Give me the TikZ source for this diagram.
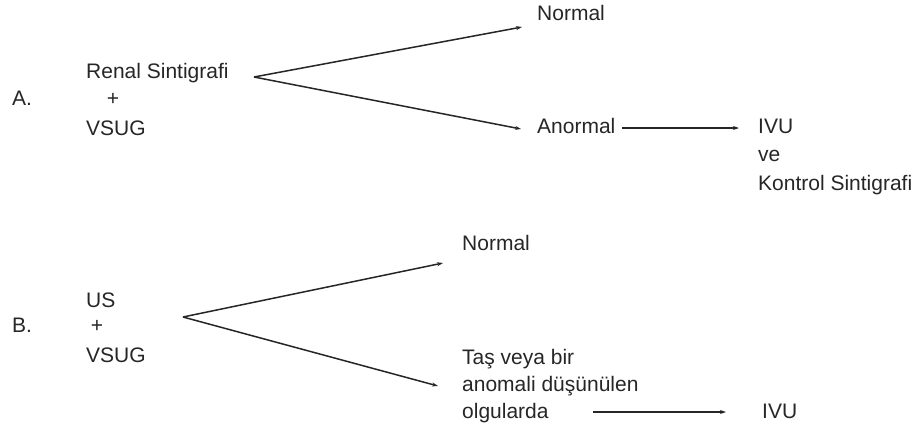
\documentclass[tikz,border=0pt]{standalone}
\usepackage{fontspec}
\setmainfont{Liberation Sans}
\usetikzlibrary{arrows.meta}
\begin{document}
\begin{tikzpicture}[x=1pt,y=-1pt,
  lbl/.style={anchor=base west,inner sep=0pt,font=\fontsize{21}{25}\selectfont,text=black!85},
  plus/.style={anchor=base,inner sep=0pt,font=\fontsize{21}{25}\selectfont,text=black!85},
  arr/.style={draw=black!85,line width=1.5pt,-{Stealth[length=6pt,width=4pt]}}]
\useasboundingbox (0,0) rectangle (917,432);
% Part A
\node[lbl] (la) at (12,105) {A.};
\node[lbl] (renal) at (86,78) {Renal Sintigrafi};
\node[plus] (plusa) at (113,105) {+};
\node[lbl] (vsuga) at (86,135) {VSUG};
\node[lbl] (norma) at (537,20) {Normal};
\node[lbl] (anormal) at (537,133) {Anormal};
\node[lbl] (ivua) at (758,133) {IVU};
\node[lbl] (ve) at (758,161) {ve};
\node[lbl] (kontrol) at (758,190) {Kontrol Sintigrafi};
\coordinate (bra) at (254,77);
\coordinate (ta1) at (522,27);
\coordinate (ta2) at (521,129);
\coordinate (sa) at (622,128);
\coordinate (ea) at (739,128);
\draw[arr] (bra) -- (ta1);
\draw[arr] (bra) -- (ta2);
\draw[arr] (sa) -- (ea);
% Part B
\node[lbl] (lb) at (12,332) {B.};
\node[lbl] (us) at (86,307) {US};
\node[plus] (plusb) at (97,332) {+};
\node[lbl] (vsugb) at (86,362) {VSUG};
\node[lbl] (normb) at (462,250) {Normal};
\node[lbl] (tas) at (462,364) {Taş veya bir};
\node[lbl] (anom) at (462,391) {anomali düşünülen};
\node[lbl] (olgu) at (462,418) {olgularda};
\node[lbl] (ivub) at (762,418) {IVU};
\coordinate (brb) at (183,317);
\coordinate (tb1) at (443,263);
\coordinate (tb2) at (438,386);
\coordinate (sb) at (593,412);
\coordinate (eb) at (726,412);
\draw[arr] (brb) -- (tb1);
\draw[arr] (brb) -- (tb2);
\draw[arr] (sb) -- (eb);
\end{tikzpicture}
\end{document}
